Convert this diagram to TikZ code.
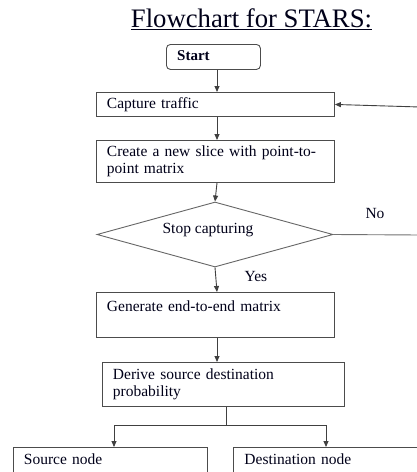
\documentclass[tikz,border=0pt]{standalone}
\usepackage{fontspec}
\setmainfont{Liberation Serif}
\usetikzlibrary{shapes.geometric,arrows.meta}
\begin{document}
\begin{tikzpicture}[x=1pt,y=-1pt,
  every node/.style={font=\fontsize{15.5}{17}\selectfont, text=black!90!blue},
  box/.style={draw=black!70, line width=0.9pt, rectangle, align=left, anchor=north west, inner xsep=10pt, inner ysep=0pt},
  conn/.style={draw=black!75, line width=0.9pt},
  arr/.style={conn, -{Triangle[length=6pt,width=5pt]}}
]
\useasboundingbox (0,0) rectangle (417,472);
\clip (0,0) rectangle (417,472);
\fill[white] (0,0) rectangle (417,472);
\node (title) at (251.5,19) {\fontsize{26.7}{30}\selectfont\underline{Flowchart for STARS:}};
\node[draw=black!70, line width=0.9pt, rounded corners=4pt, anchor=north west, minimum width=94pt, minimum height=25pt, inner sep=0pt] (start) at (166,44) {};
\node[anchor=west, inner sep=0pt, font=\fontsize{15}{17}\selectfont\bfseries] (starttxt) at (177,56) {Start};
\node[box, minimum width=238pt, minimum height=24pt, text width=217pt] (cap) at (96,92) {Capture traffic};
\node[box, minimum width=238pt, minimum height=42pt, text width=217pt] (create) at (96,140) {Create a new slice with point-to-\\point matrix};
\node[draw=black!60, line width=0.9pt, diamond, minimum width=236pt, minimum height=65pt, inner sep=0pt] (stop) at (215,234.5) {};
\node[inner sep=0pt] (stoptxt) at (208,230) {Stop capturing};
\node[box, minimum width=238pt, minimum height=45pt, text width=217pt] (gen) at (96,292) {Generate end-to-end matrix\\\mbox{}};
\node[box, minimum width=242pt, minimum height=44pt, text width=221pt] (der) at (102,362) {Derive source destination\\probability};
\node[box, minimum width=194pt, minimum height=40pt, text width=173pt, inner ysep=6pt, text depth=22pt] (src) at (13,447) {Source node};
\node[box, minimum width=200pt, minimum height=40pt, text width=178pt, inner ysep=6pt, text depth=22pt] (dst) at (233,447) {Destination node};
\node[inner sep=0pt] (no) at (375,213) {No};
\node[inner sep=0pt] (yes) at (256,276) {Yes};
\coordinate (loopa) at (420,235);
\coordinate (loopb) at (420,107);
\coordinate (split) at (226,425);
\coordinate (splitl) at (114,425);
\coordinate (splitr) at (326,425);
\draw[arr] (start.south -| 217,0) -- (cap.north -| 217,0);
\draw[arr] (cap.south -| 217,0) -- (create.north -| 217,0);
\draw[arr] (create.south -| 217,0) -- (stop.north);
\draw[arr] (stop.south) -- (gen.north -| 217,0);
\draw[arr] (gen.south -| 217,0) -- (der.north -| 217,0);
\draw[conn, draw=black!55] (stop.east) -- (loopa) -- (loopb);
\draw[arr] (loopb) -- (cap.east);
\draw[conn] (der.south -| split) -- (split);
\draw[arr] (split) -- (splitl) -- (src.north -| splitl);
\draw[arr] (split) -- (splitr) -- (dst.north -| splitr);
\end{tikzpicture}
\end{document}
